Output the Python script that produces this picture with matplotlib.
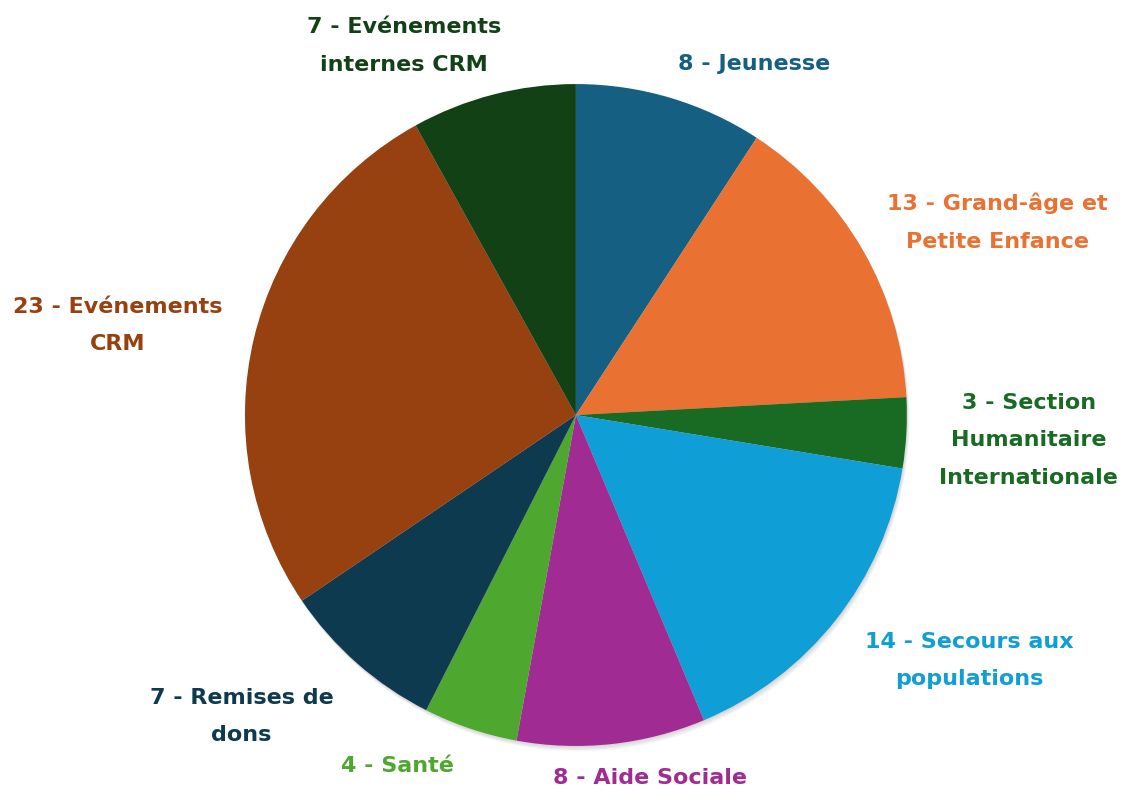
import numpy as np
import matplotlib.pyplot as plt
from matplotlib.patches import Circle

# data (counts per category)
labels = ["Jeunesse", "Grand-âge et\nPetite Enfance", "Section\nHumanitaire\nInternationale",
          "Secours aux\npopulations", "Aide Sociale", "Santé", "Remises de\ndons",
          "Evénements\nCRM", "Evénements\ninternes CRM"]
values = [8, 13, 3, 14, 8, 4, 7, 23, 7]
colors = ["#156082", "#E97132", "#196B24", "#0F9ED5", "#A02B93",
          "#4EA72E", "#0E3A50", "#974010", "#124116"]

# label placement (radius factor, angle nudge in degrees)
label_dist = [1.19, 1.40, 1.37, 1.40, 1.12, 1.19, 1.36, 1.41, 1.23]
label_nudge = [-10.4, -5.4, -0.1, 6.3, 5.3, -8.4, -6.6, 2.4, 10.5]

plt.rcParams['font.family'] = ['DejaVu Sans']

fig = plt.figure(figsize=(11.23, 7.89), dpi=100)
ax = fig.add_axes([0, 0, 1, 1])

# soft shadow under the pie
for k in range(1, 5):
    ax.add_patch(Circle((0.002 * k, -0.004 * k), 1.0, color='black', alpha=0.04, lw=0, zorder=0))

wedges, _ = ax.pie(values, colors=colors, startangle=90, counterclock=False,
                   radius=1.0, wedgeprops=dict(linewidth=0, zorder=1))

for i, w in enumerate(wedges):
    mid = np.deg2rad((w.theta1 + w.theta2) / 2 + label_nudge[i])
    txt = f"{values[i]} - {labels[i]}"
    ax.text(label_dist[i] * np.cos(mid), label_dist[i] * np.sin(mid), txt,
            ha='center', va='center', multialignment='center',
            fontsize=16, fontweight='bold', color=colors[i], linespacing=2.1)

ax.set_xlim(-1.740, 1.653)
ax.set_ylim(-1.130, 1.254)
ax.set_aspect('equal')
ax.axis('off')

plt.savefig("out.png", dpi=100)
